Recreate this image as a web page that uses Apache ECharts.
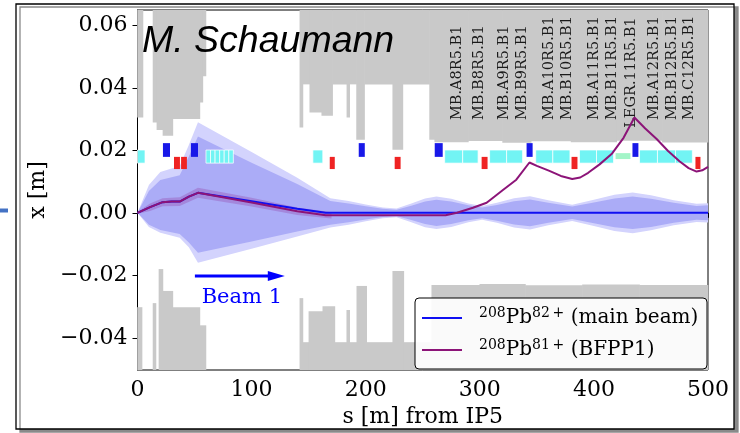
<!DOCTYPE html>
<html>
<head>
<meta charset="utf-8">
<script src="https://cdn.jsdelivr.net/npm/echarts@6/dist/echarts.min.js"></script>
<style>
html, body { margin: 0; padding: 0; background: #fff; }
#chart { width: 740px; height: 433px; }
</style>
</head>
<body>
<div id="chart"></div>
<script>
// ---------------- axes ----------------
const sMin = 0, sMax = 500;
const xMinVal = -0.0503, xMaxVal = 0.0649;
const sTicks = [0, 100, 200, 300, 400, 500];
const xTicks = [-0.04, -0.02, 0.00, 0.02, 0.04, 0.06];

// ---------------- aperture (gray): [s start, s end, edge position] ----------------
const apertureUpper = [
  [0, 4.8, 0.0305], [13.6, 17, 0.0289], [17, 22.3, 0.0265], [22.3, 31, 0.0247],
  [31, 54.7, 0.0300], [54.7, 57.3, 0.0353], [57.3, 60, 0.0437],
  [142.3, 145, 0.0273], [145, 151, 0.0411], [151, 161.5, 0.0321], [161.5, 171, 0.0311],
  [171, 183.5, 0.0411], [183.5, 186, 0.0305], [186, 192, 0.0411], [192, 199, 0.0234],
  [199, 223.7, 0.0411], [223.7, 232.6, 0.0202], [232.6, 256, 0.0411], [256, 260.5, 0.0234],
  [260.5, 290, 0.0226], [290, 320, 0.0230], [320, 345, 0.0224], [345, 380, 0.0229],
  [380, 420, 0.0226], [420, 460, 0.0231], [460, 500, 0.0225]
];
const apertureLower = [
  [0, 4, -0.0302], [13.6, 16.2, -0.0289], [18.8, 22.3, -0.0180], [22.3, 31, -0.0250],
  [31, 54.7, -0.0302], [54.7, 60, -0.0360],
  [142.3, 145, -0.0273], [145, 150.2, -0.0414], [150.2, 162.4, -0.0315], [162.4, 173, -0.0299],
  [173, 183.4, -0.0414], [183.4, 186, -0.0311], [186, 192.2, -0.0414], [192.2, 200.9, -0.0234],
  [200.9, 223.7, -0.0414], [223.7, 233.4, -0.0186], [233.4, 257.9, -0.0414],
  [257.9, 300, -0.0231], [300, 340, -0.0228], [340, 390, -0.0232], [390, 440, -0.0229],
  [440, 500, -0.0231]
];

// ---------------- beam envelopes ----------------
const envS = [0, 10, 20, 37, 45, 53, 100, 140, 169, 185, 200, 215, 227, 240, 252, 262, 275, 290, 302, 315, 330, 344, 360, 381, 400, 418, 434, 450, 470, 490, 500];
const envOuterUp = [0, 0.0089, 0.0131, 0.0150, 0.0217, 0.0290, 0.0195, 0.0112, 0.0047, 0.0038, 0.0027, 0.0017, 0.0014, 0.0030, 0.0046, 0.0052, 0.0045, 0.0030, 0.0022, 0.0032, 0.0047, 0.0053, 0.0040, 0.0026, 0.0042, 0.0058, 0.0065, 0.0056, 0.0040, 0.0029, 0.0031];
const envOuterLo = [0, -0.0045, -0.0064, -0.0080, -0.0110, -0.0160, -0.0115, -0.0076, -0.0047, -0.0038, -0.0027, -0.0017, -0.0014, -0.0030, -0.0046, -0.0052, -0.0045, -0.0030, -0.0022, -0.0032, -0.0047, -0.0053, -0.0040, -0.0026, -0.0042, -0.0058, -0.0065, -0.0056, -0.0040, -0.0029, -0.0031];
const envInnerUp = [0, 0.0070, 0.0105, 0.0120, 0.0180, 0.0244, 0.0160, 0.0092, 0.0038, 0.0030, 0.0021, 0.0013, 0.0010, 0.0023, 0.0036, 0.0042, 0.0036, 0.0024, 0.0017, 0.0025, 0.0037, 0.0043, 0.0032, 0.0020, 0.0033, 0.0046, 0.0052, 0.0045, 0.0032, 0.0022, 0.0024];
const envInnerLo = [0, -0.0038, -0.0055, -0.0068, -0.0095, -0.0128, -0.0092, -0.0060, -0.0038, -0.0030, -0.0021, -0.0013, -0.0010, -0.0023, -0.0036, -0.0042, -0.0036, -0.0024, -0.0017, -0.0025, -0.0037, -0.0043, -0.0032, -0.0020, -0.0033, -0.0046, -0.0052, -0.0045, -0.0032, -0.0022, -0.0024];

// BFPP1 beam size around its orbit (first cell)
const bfppEnvS = [0, 11, 22, 37, 53, 100, 140, 170];
const bfppEnvUp = [0.0003, 0.0030, 0.0047, 0.0050, 0.0080, 0.0048, 0.0017, 0.0002];
const bfppEnvLo = [-0.0003, 0.0006, 0.0021, 0.0022, 0.0048, 0.0020, -0.0007, -0.0018];

// ---------------- closed orbits ----------------
const mainS = [0, 11, 22, 30, 37, 45, 53, 100, 140, 165, 500];
const mainX = [0, 0.0018, 0.0034, 0.0036, 0.0036, 0.0052, 0.0064, 0.0037, 0.0013, 0, 0];
const bfppS = [0, 11, 22, 30, 37, 45, 53, 100, 140, 165, 270, 280, 294, 306, 320, 332, 343.5, 350, 361, 371, 381, 388, 395, 405, 416, 426, 435.5, 445, 455, 465, 475, 483, 490, 495, 500];
const bfppX = [0, 0.0018, 0.0034, 0.0036, 0.0036, 0.0052, 0.0064, 0.0033, 0.0005, -0.0008, -0.0008, 0.0000, 0.0016, 0.0032, 0.0072, 0.0106, 0.0161, 0.0150, 0.0134, 0.0118, 0.0108, 0.0113, 0.0128, 0.0155, 0.0190, 0.0240, 0.0305, 0.0270, 0.0236, 0.0198, 0.0165, 0.0143, 0.0132, 0.0136, 0.0147];

// ---------------- lattice elements: [s start, s end] ----------------
const dipoles = [[-4, 6.6], [60, 64], [64, 68], [68, 72], [72, 76], [76, 80], [80, 84], [153.7, 162.4],
  [269.2, 285], [285, 298.5], [308.6, 323.5], [323.5, 337.5], [349, 364], [364, 379],
  [387.4, 402.3], [402.3, 417.2], [440, 455.7], [455.7, 471.5], [471.5, 486.3]];
const collimators = [[419, 432]];
const quadsF = [[22.3, 28.5], [46.8, 53], [193.9, 199.2], [260.5, 267.5], [341, 346.3], [433.8, 439]];
const quadsD = [[32, 37.2], [38.2, 43.3], [168.5, 172.9], [225.4, 230.6], [301.6, 306.8], [380.4, 385.6], [489, 493.4]];

const elementNames = ['MB.A8R5.B1', 'MB.B8R5.B1', 'MB.A9R5.B1', 'MB.B9R5.B1', 'MB.A10R5.B1', 'MB.B10R5.B1',
  'MB.A11R5.B1', 'MB.B11R5.B1', 'LEGR.11R5.B1', 'MB.A12R5.B1', 'MB.B12R5.B1', 'MB.C12R5.B1'];
const elementNameS = [280.6, 299.9, 321.8, 337.5, 361.1, 376.9, 400.5, 416.3, 432.9, 453.1, 468.8, 483.7];
const elementNameX = [0.0297, 0.0297, 0.0297, 0.0297, 0.0297, 0.0297, 0.0297, 0.0297, 0.0272, 0.0297, 0.0297, 0.0297];

// beam direction annotation: [s from, s to, x]
const beamArrow = [[50.3, 129.1, -0.0202]];

// series names and their legend text (mass number, charge state)
const nameMain = '208Pb82+ (main beam)';
const nameBfpp = '208Pb81+ (BFPP1)';
const legendText = {};
legendText[nameMain] = '{sup|208}Pb{sup|82\u2009+} (main beam)';
legendText[nameBfpp] = '{sup|208}Pb{sup|81\u2009+} (BFPP1)';

// ---------------- helpers ----------------
const SERIF = "'DejaVu Serif', serif";

function rectFrom(api, params, s0, s1, y0, y1) {
  const a = api.coord([s0, y0]);
  const b = api.coord([s1, y1]);
  const r = {
    x: Math.min(a[0], b[0]), y: Math.min(a[1], b[1]),
    width: Math.abs(b[0] - a[0]), height: Math.abs(b[1] - a[1])
  };
  return echarts.graphic.clipRectByRect(r, params.coordSys);
}

function bandSeries(name, s, up, lo, fill) {
  return {
    type: 'custom', name, silent: true, z: 2,
    data: [[s[0], up[0]]],
    renderItem: function (params, api) {
      const pts = [];
      for (let i = 0; i < s.length; i++) pts.push(api.coord([s[i], up[i]]));
      for (let i = s.length - 1; i >= 0; i--) pts.push(api.coord([s[i], lo[i]]));
      const cs = params.coordSys;
      return {
        type: 'polygon',
        shape: { points: echarts.graphic.clipPointsByRect(pts, cs) },
        style: { fill: fill }
      };
    }
  };
}

function blockSeries(name, blocks, y0, y1, fill, stroke) {
  return {
    type: 'custom', name, silent: true, z: 3,
    data: blocks,
    renderItem: function (params, api) {
      const r = rectFrom(api, params, api.value(0), api.value(1), y0, y1);
      if (!r) return null;
      return { type: 'rect', shape: r, style: { fill: fill, stroke: stroke || null, lineWidth: stroke ? 0.8 : 0 } };
    }
  };
}

function apertureSeries(name, blocks, upper) {
  return {
    type: 'custom', name, silent: true, z: 1,
    data: blocks,
    renderItem: function (params, api) {
      const edge = api.value(2);
      const r = rectFrom(api, params, api.value(0), api.value(1), edge, upper ? xMaxVal : xMinVal);
      if (!r) return null;
      // slight overlap so neighbouring blocks join seamlessly
      r.x -= 0.3; r.width += 0.6;
      return { type: 'rect', shape: r, style: { fill: '#c9c9c9' } };
    }
  };
}

const pairs = (s, x) => s.map((v, i) => [v, x[i]]);
const fmtTick = v => (v < 0 ? '\u2212' : '') + Math.abs(v).toFixed(2);

const chart = echarts.init(document.getElementById('chart'), null, { renderer: 'canvas' });

chart.setOption({
  animation: false,
  grid: { left: 137.5, right: 32, top: 10, bottom: 63, show: true, borderColor: '#000', borderWidth: 1, backgroundColor: 'transparent' },
  xAxis: {
    type: 'value', min: sMin, max: sMax, interval: 100,
    name: 's [m] from IP5', nameLocation: 'middle', nameGap: 35,
    nameTextStyle: { fontFamily: SERIF, fontSize: 22, color: '#000' },
    axisLine: { lineStyle: { color: '#000', width: 1 } },
    axisTick: { show: true, inside: false, length: 5, lineStyle: { color: '#000', width: 1 } },
    minorTick: { show: true, splitNumber: 5, length: 3, lineStyle: { color: '#000', width: 0.8 } },
    axisLabel: { fontFamily: SERIF, fontSize: 22, color: '#000', margin: 9 },
    splitLine: { show: false }
  },
  yAxis: {
    type: 'value', min: xMinVal, max: xMaxVal,
    name: 'x [m]', nameLocation: 'middle', nameGap: 88,
    nameTextStyle: { fontFamily: SERIF, fontSize: 22, color: '#000' },
    axisLine: { show: true, lineStyle: { color: '#000', width: 1 } },
    axisTick: { show: true, inside: false, length: 5, customValues: xTicks, lineStyle: { color: '#000', width: 1 } },
    axisLabel: { fontFamily: SERIF, fontSize: 22, color: '#000', margin: 10, customValues: xTicks, formatter: fmtTick },
    splitLine: { show: false }
  },
  legend: {
    orient: 'vertical', left: 422, top: 306, padding: 0,
    itemWidth: 40, itemHeight: 2, itemGap: 8, icon: 'rect',
    data: [nameMain, nameBfpp],
    formatter: n => legendText[n],
    textStyle: {
      fontFamily: SERIF, fontSize: 20, color: '#000', lineHeight: 24, padding: [0, 0, 0, 12],
      rich: { sup: { fontFamily: SERIF, fontSize: 14, lineHeight: 15, verticalAlign: 'top', color: '#000' } }
    },
    z: 12
  },
  graphic: [
    { type: 'rect', z: -10, shape: { x: 16, y: 4, width: 718, height: 425 },
      style: { fill: '#fff', stroke: '#000', lineWidth: 1.3, shadowColor: '#8a8a8a', shadowOffsetX: 4, shadowOffsetY: 3, shadowBlur: 0 } },
    { type: 'line', z: -5, shape: { x1: 0, y1: 210.5, x2: 8, y2: 210.5 }, style: { stroke: '#4472c4', lineWidth: 4 } },
    { type: 'rect', z: 11, shape: { x: 415, y: 298, width: 292, height: 71, r: 4 },
      style: { fill: 'rgba(255,255,255,0.9)', stroke: '#000', lineWidth: 1 } },
    { type: 'text', z: 20, x: 142, y: 41.5,
      style: { text: 'M. Schaumann', fill: '#000', font: "italic 37.5px 'Liberation Sans', Arial, sans-serif", verticalAlign: 'middle', align: 'left' } }
  ],
  series: [
    apertureSeries('aperture upper', apertureUpper, true),
    apertureSeries('aperture lower', apertureLower, false),
    bandSeries('envelope outer', envS, envOuterUp, envOuterLo, '#d3d3fd'),
    bandSeries('envelope inner', envS, envInnerUp, envInnerLo, '#abacf7'),
    bandSeries('envelope bfpp', bfppEnvS, bfppEnvUp, bfppEnvLo, 'rgba(150, 70, 170, 0.35)'),
    blockSeries('dipoles', dipoles, 0.0159, 0.0201, '#72f4f4', 'rgba(255,255,255,0.9)'),
    blockSeries('collimators', collimators, 0.0172, 0.0191, '#a3f5c8', null),
    blockSeries('quads F', quadsF, 0.0179, 0.0223, '#1818e8', null),
    blockSeries('quads D', quadsD, 0.0140, 0.0179, '#ef2323', null),
    {
      type: 'custom', name: 'element names', silent: true, z: 4,
      data: elementNameS.map((s, i) => [s, elementNameX[i], i]),
      renderItem: function (params, api) {
        const p = api.coord([api.value(0), api.value(1)]);
        return {
          type: 'text', x: p[0], y: p[1], rotation: Math.PI / 2,
          style: { text: elementNames[api.value(2)], font: "14.5px 'DejaVu Serif', serif", fill: '#1a1a1a', align: 'left', verticalAlign: 'middle' }
        };
      }
    },
    {
      name: nameMain, type: 'line', z: 5,
      data: pairs(mainS, mainX), showSymbol: false, symbol: 'none',
      lineStyle: { color: '#0f0ff2', width: 2 }, itemStyle: { color: '#0f0ff2' }
    },
    {
      name: nameBfpp, type: 'line', z: 6,
      data: pairs(bfppS, bfppX), showSymbol: false, symbol: 'none',
      lineStyle: { color: '#8c1478', width: 2 }, itemStyle: { color: '#8c1478' }
    },
    {
      type: 'custom', name: 'beam direction', silent: true, z: 7,
      data: beamArrow,
      renderItem: function (params, api) {
        const a = api.coord([api.value(0), api.value(2)]);
        const b = api.coord([api.value(1), api.value(2)]);
        const head = 17, half = 5;
        const mid = api.coord([(api.value(0) + api.value(1)) / 2, api.value(2)]);
        return {
          type: 'group',
          children: [
            { type: 'line', shape: { x1: a[0], y1: a[1], x2: b[0] - head + 1, y2: b[1] }, style: { stroke: '#0000ff', lineWidth: 3 } },
            { type: 'polygon', shape: { points: [[b[0], b[1]], [b[0] - head, b[1] - half], [b[0] - head, b[1] + half]] }, style: { fill: '#0000ff' } },
            { type: 'text', x: mid[0] + 2, y: a[1] + 22, style: { text: 'Beam 1', font: "21px 'DejaVu Serif', serif", fill: '#0000ff', align: 'center', verticalAlign: 'middle' } }
          ]
        };
      }
    }
  ]
});
</script>
</body>
</html>
